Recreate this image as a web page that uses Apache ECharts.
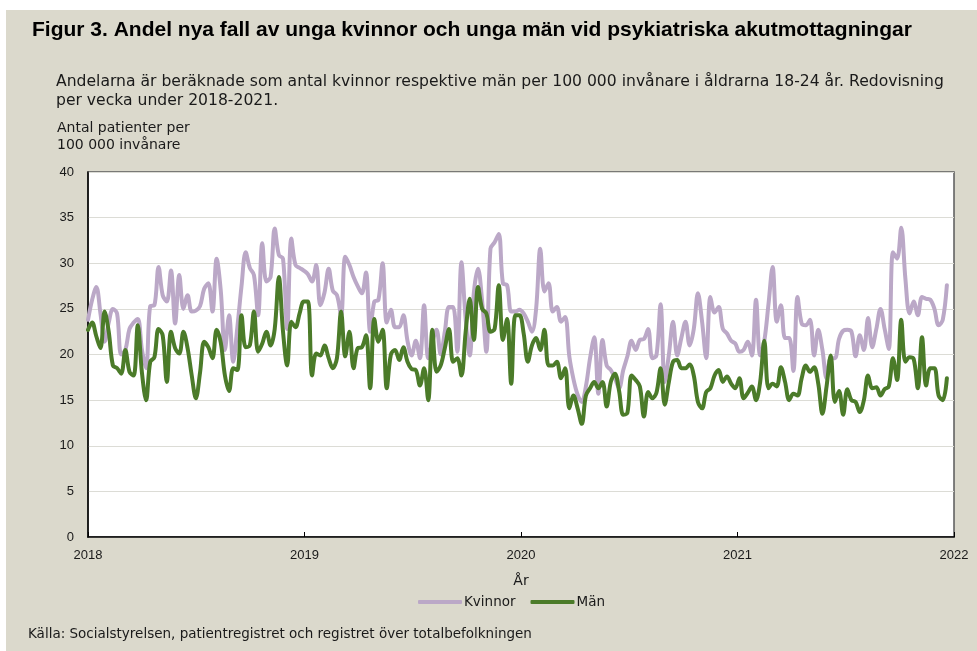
<!DOCTYPE html>
<html>
<head>
<meta charset="utf-8">
<script src="https://cdn.jsdelivr.net/npm/echarts@6/dist/echarts.min.js"></script>
<style>
html,body{margin:0;padding:0;background:#fff;}
#chart{width:977px;height:651px;}
</style>
</head>
<body>
<div id="chart"></div>
<script>
// Weekly values, 2018 week 1 onwards (per 100 000 inhabitants aged 18-24)
const kvinnor = [
23.8,26,27.4,24.5,21.4,23.5,25,24.5,20,20.5,22.8,23.5,23.9,20.5,18.5,25.3,25.4,29.6,26.5,25.8,29.2,23.4,28.7,25,26.5,24.7,24.8,
25.3,27.2,27.8,24.7,30.5,27,20.5,24.3,19.2,23,27.5,31.2,29.5,28.7,24.3,32.2,28,28.5,33.8,30.9,30.5,22.8,32.7,29.8,29.5,29.2,
28.8,28,29.8,25.4,26.8,29.4,27,26.5,24.3,30.7,29.8,28.5,27.5,26.7,29,22.5,25.8,26,30,23.5,24.9,23,23,24.3,21.5,19.9,
21.5,19.6,25.4,19.6,21.4,22.7,20,22.5,25.2,25.2,20.3,30.1,24,19.9,26.8,29.4,25.8,20.3,31.6,32.3,33.2,27.8,27.6,24.7,24.7,24.9,
24.5,23.6,22.5,25,31.6,26.9,27.8,24.7,25.2,23.6,24.1,19.8,17.3,15.6,14.8,16.5,19.6,21.9,15.7,21.6,18.8,18.3,17.4,16.3,18.3,19.8,
21.5,20.5,21.6,21.7,22.8,19.6,19.9,25.5,17,20,23.6,19.9,21.8,23.6,21,22.8,26.7,23.6,19.6,26.3,24.6,25.2,22.8,22.3,21.5,21.2,
20.3,20.5,21.4,19.9,26,19.9,21.5,25.5,29.6,23.6,25.4,21.8,21.8,18.2,26.3,23.4,23.2,23.8,19.9,22.7,20.5,17.4,19.6,19.6,21.7,22.6,
22.7,22.5,19.8,22.1,20.5,24,20.8,22.8,25,22.8,20.6,31.2,30.5,33.9,28.3,24.5,25.8,24.3,26.3,26.1,26,25,23.2,23.8,27.6
];
const man = [
22.7,23.5,22,20.7,24.7,22.5,18.8,18.5,17.9,20.5,18.1,17.7,23.2,18,15,19.2,19.7,22.8,22.1,17,22.5,20.7,20.1,22.5,20.7,17.7,15.2,
18,21.4,20.8,19.6,22.7,21.3,17.7,16,18.5,18.3,24.3,20.8,21,24.7,20.3,21.2,22.5,21,22.8,28.5,22.5,18.8,23.6,23,24.5,25.8,
25.8,17.7,20.1,19.9,21,19.6,18.5,19.6,24.7,19.8,22.5,18.5,20.7,20.8,22.1,16.3,23.9,21.4,22.7,16.3,20,20.5,19.4,20.8,19.2,18.4,
18.3,16.6,18.5,15,22.7,18.1,18.8,20.7,22.8,19.2,19.6,17.7,22.4,26.1,21.6,27.4,25,24.5,22.5,22.8,27.6,21.6,23.9,16.8,24.3,24.3,
22.3,19.2,21,21.8,20.5,22.7,18.8,18.8,19.2,17.4,18.5,14.1,15.5,14.1,12.4,15.5,16.3,17,16.3,17,14.3,17,17.9,16,13.4,13.6,
17.7,17.2,16.5,13.2,15.9,15.2,15.8,18.5,14.5,17,19.2,19.4,18.5,18.5,18.9,17.7,14.8,14.1,15.9,16.3,17.7,18.3,17,17.6,16.8,16.3,
17.4,15.2,15.8,16.5,15,17,21.5,16.3,16.8,16.5,18.6,17,15,15.7,15.5,17.4,18.8,18.1,18.6,16.8,13.5,16.5,19.9,14.8,16,13.4,
16.2,15,14.8,13.7,15,17.7,16.3,16.4,15.5,16.2,16.5,19.6,17.2,23.8,19.2,19.7,19.5,16.3,21.9,16.6,18.5,18.5,15.5,15,17.4
];
const yearTicks = [2018, 2019, 2020, 2021, 2022];
const seriesNames = ['Kvinnor', 'Män'];

const weekX = i => 2018 + i * 7 / 365.25;
const kData = kvinnor.map((v, i) => [weekX(i), v]);
const mData = man.map((v, i) => [weekX(i), v]);

const FONT = '"Liberation Sans", Arial, sans-serif';
const WFONT = '"DejaVu Sans", "Liberation Sans", sans-serif';
const chart = echarts.init(document.getElementById('chart'), null, {renderer: 'canvas'});
chart.setOption({
  backgroundColor: '#ffffff',
  animation: false,
  graphic: [
    {type: 'rect', z: -10, shape: {x: 6, y: 10, width: 971, height: 641}, style: {fill: '#dbd9cc'}},
    {type: 'text', left: 32, top: 20, style: {text: 'Figur 3. Andel nya fall av unga kvinnor och unga män vid psykiatriska akutmottagningar', font: 'bold 21px ' + FONT, fill: '#000'}},
    {type: 'text', left: 56, top: 72, style: {text: 'Andelarna är beräknade som antal kvinnor respektive män per 100 000 invånare i åldrarna 18-24 år. Redovisning\nper vecka under 2018-2021.', font: '15.6px ' + WFONT, fill: '#1a1a1a', lineHeight: 19}},
    {type: 'text', left: 57, top: 120, style: {text: 'Antal patienter per\n100 000 invånare', font: '14px ' + WFONT, fill: '#1a1a1a', lineHeight: 17}},
    {type: 'text', left: 28, top: 627, style: {text: 'Källa: Socialstyrelsen, patientregistret och registret över totalbefolkningen', font: '13.5px ' + WFONT, fill: '#1a1a1a'}}
  ],
  grid: {left: 88, right: 23, top: 172, bottom: 114, show: true, backgroundColor: '#ffffff', borderColor: '#595959', borderWidth: 1.5},
  legend: {
    data: seriesNames,
    left: 413, top: 590,
    icon: 'roundRect', itemWidth: 44, itemHeight: 4, itemGap: 15,
    textStyle: {fontFamily: WFONT, fontSize: 13.5, color: '#1a1a1a', padding: [0, 0, 0, -3]}
  },
  xAxis: {
    type: 'value', min: 2018, max: 2022, interval: 1,
    name: 'År', nameLocation: 'middle', nameGap: 37,
    nameTextStyle: {fontFamily: WFONT, fontSize: 14, color: '#1a1a1a'},
    axisLine: {lineStyle: {color: '#000', width: 1.5}},
    axisTick: {inside: true, length: 5, lineStyle: {color: '#000'}},
    axisLabel: {fontFamily: FONT, fontSize: 13, color: '#1a1a1a', margin: 12, formatter: v => yearTicks.includes(v) ? String(v) : ''},
    splitLine: {show: false}
  },
  yAxis: {
    type: 'value', min: 0, max: 40, interval: 5,
    axisLine: {show: true, lineStyle: {color: '#000', width: 1.5}},
    axisTick: {show: false},
    axisLabel: {fontFamily: FONT, fontSize: 13, color: '#1a1a1a', margin: 14},
    splitLine: {lineStyle: {color: '#dcdcd6', width: 1}}
  },
  series: [
    {name: seriesNames[0], type: 'line', data: kData, showSymbol: false, smooth: 0.35,
     lineStyle: {color: '#bba8c7', width: 4, cap: 'round', join: 'round'}, itemStyle: {color: '#bba8c7'}, z: 2},
    {name: seriesNames[1], type: 'line', data: mData, showSymbol: false, smooth: 0.35,
     lineStyle: {color: '#4b7b29', width: 4, cap: 'round', join: 'round'}, itemStyle: {color: '#4b7b29'}, z: 3}
  ]
});
</script>
</body>
</html>
